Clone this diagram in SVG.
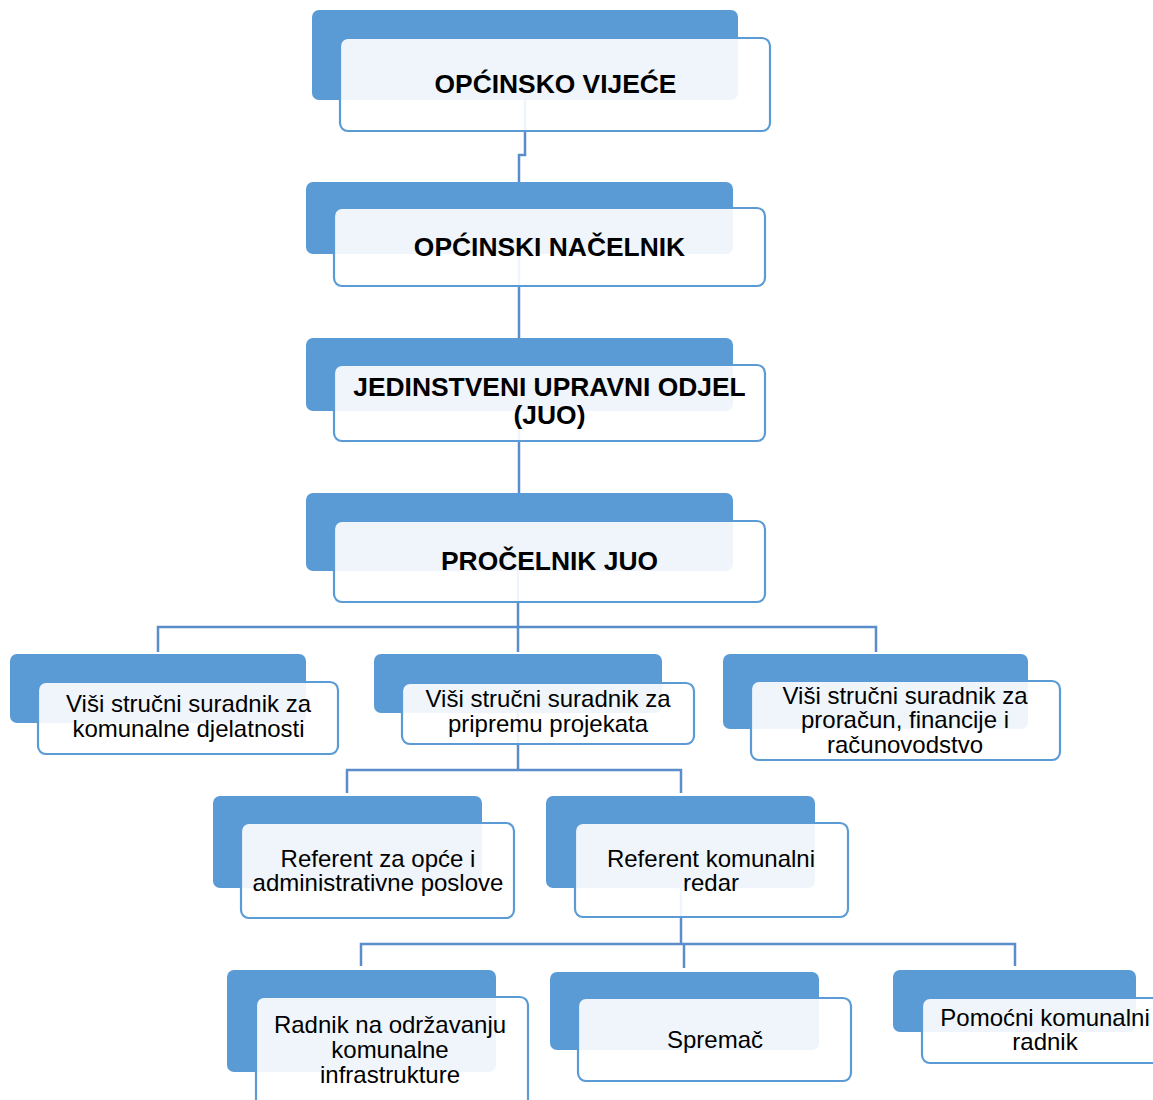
<svg xmlns="http://www.w3.org/2000/svg" width="1153" height="1100" viewBox="0 0 1153 1100">
<style>
.back{fill:#5B9BD5;}
.front{fill:#FFFFFF;fill-opacity:0.9;stroke:#5B9BD5;stroke-width:2.2;}
.conn{fill:none;stroke:#5A8DC9;stroke-width:2.5;}
.tb{font-family:"Liberation Sans",Arial,sans-serif;font-weight:bold;font-size:26.4px;fill:#000;text-anchor:middle;}
.tr{font-family:"Liberation Sans",Arial,sans-serif;font-size:24px;fill:#000;text-anchor:middle;}
</style>
<rect width="1153" height="1100" fill="#FFFFFF"/>
<g id="connectors">
<path class="conn" d="M525,100 V155 H519 V182"/>
<path class="conn" d="M519,254 V338"/>
<path class="conn" d="M519,411 V493"/>
<path class="conn" d="M518,571 V652"/>
<path class="conn" d="M158,652 V627 H876 V652"/>
<path class="conn" d="M518,713 V770"/>
<path class="conn" d="M347,793 V770 H681 V793"/>
<path class="conn" d="M681,888 V944"/>
<path class="conn" d="M361,966 V944 H1015 V966"/>
<path class="conn" d="M684,944 V968"/>
</g>
<g id="n1">
<rect class="back" x="312" y="10" width="426" height="90" rx="7"/>
<rect class="front" x="340" y="38" width="430" height="93" rx="8"/>
<text class="tb" x="555.5" y="93">OPĆINSKO VIJEĆE</text>
</g>
<g id="n2">
<rect class="back" x="306" y="182" width="427" height="72" rx="7"/>
<rect class="front" x="334" y="208" width="431" height="78" rx="8"/>
<text class="tb" x="549.5" y="256">OPĆINSKI NAČELNIK</text>
</g>
<g id="n3">
<rect class="back" x="306" y="338" width="427" height="73" rx="7"/>
<rect class="front" x="334" y="365" width="431" height="76" rx="8"/>
<text class="tb" x="549.5" y="396">JEDINSTVENI UPRAVNI ODJEL</text>
<text class="tb" x="549.5" y="424">(JUO)</text>
</g>
<g id="n4">
<rect class="back" x="306" y="493" width="427" height="78" rx="7"/>
<rect class="front" x="334" y="521" width="431" height="81" rx="8"/>
<text class="tb" x="549.5" y="570">PROČELNIK JUO</text>
</g>
<g id="l1">
<rect class="back" x="10" y="654" width="296" height="69" rx="7"/>
<rect class="front" x="38" y="682" width="300" height="72" rx="8"/>
<text class="tr" x="188.5" y="712">Viši stručni suradnik za</text>
<text class="tr" x="188.5" y="737">komunalne djelatnosti</text>
</g>
<g id="l2">
<rect class="back" x="374" y="654" width="288" height="59" rx="7"/>
<rect class="front" x="402" y="683" width="292" height="61" rx="8"/>
<text class="tr" x="548" y="707">Viši stručni suradnik za</text>
<text class="tr" x="548" y="732">pripremu projekata</text>
</g>
<g id="l3">
<rect class="back" x="723" y="654" width="305" height="75" rx="7"/>
<rect class="front" x="751" y="681" width="309" height="79" rx="8"/>
<text class="tr" x="905" y="704">Viši stručni suradnik za</text>
<text class="tr" x="905" y="728">proračun, financije i</text>
<text class="tr" x="905" y="753">računovodstvo</text>
</g>
<g id="m1">
<rect class="back" x="213" y="796" width="269" height="92" rx="7"/>
<rect class="front" x="241" y="823" width="273" height="95" rx="8"/>
<text class="tr" x="378" y="867">Referent za opće i</text>
<text class="tr" x="378" y="891">administrativne poslove</text>
</g>
<g id="m2">
<rect class="back" x="546" y="796" width="269" height="92" rx="7"/>
<rect class="front" x="575" y="823" width="273" height="94" rx="8"/>
<text class="tr" x="711" y="867">Referent komunalni</text>
<text class="tr" x="711" y="891">redar</text>
</g>
<g id="b1">
<rect class="back" x="227" y="970" width="269" height="102" rx="7"/>
<rect class="front" x="256" y="997" width="272" height="110" rx="8"/>
<text class="tr" x="390" y="1033">Radnik na održavanju</text>
<text class="tr" x="390" y="1058">komunalne</text>
<text class="tr" x="390" y="1083">infrastrukture</text>
</g>
<g id="b2">
<rect class="back" x="550" y="972" width="269" height="78" rx="7"/>
<rect class="front" x="578" y="998" width="273" height="83" rx="8"/>
<text class="tr" x="715" y="1048">Spremač</text>
</g>
<g id="b3">
<rect class="back" x="893" y="970" width="243" height="62" rx="7"/>
<rect class="front" x="922" y="998" width="250" height="65" rx="8"/>
<text class="tr" x="1045" y="1026">Pomoćni komunalni</text>
<text class="tr" x="1045" y="1050">radnik</text>
</g>
</svg>
